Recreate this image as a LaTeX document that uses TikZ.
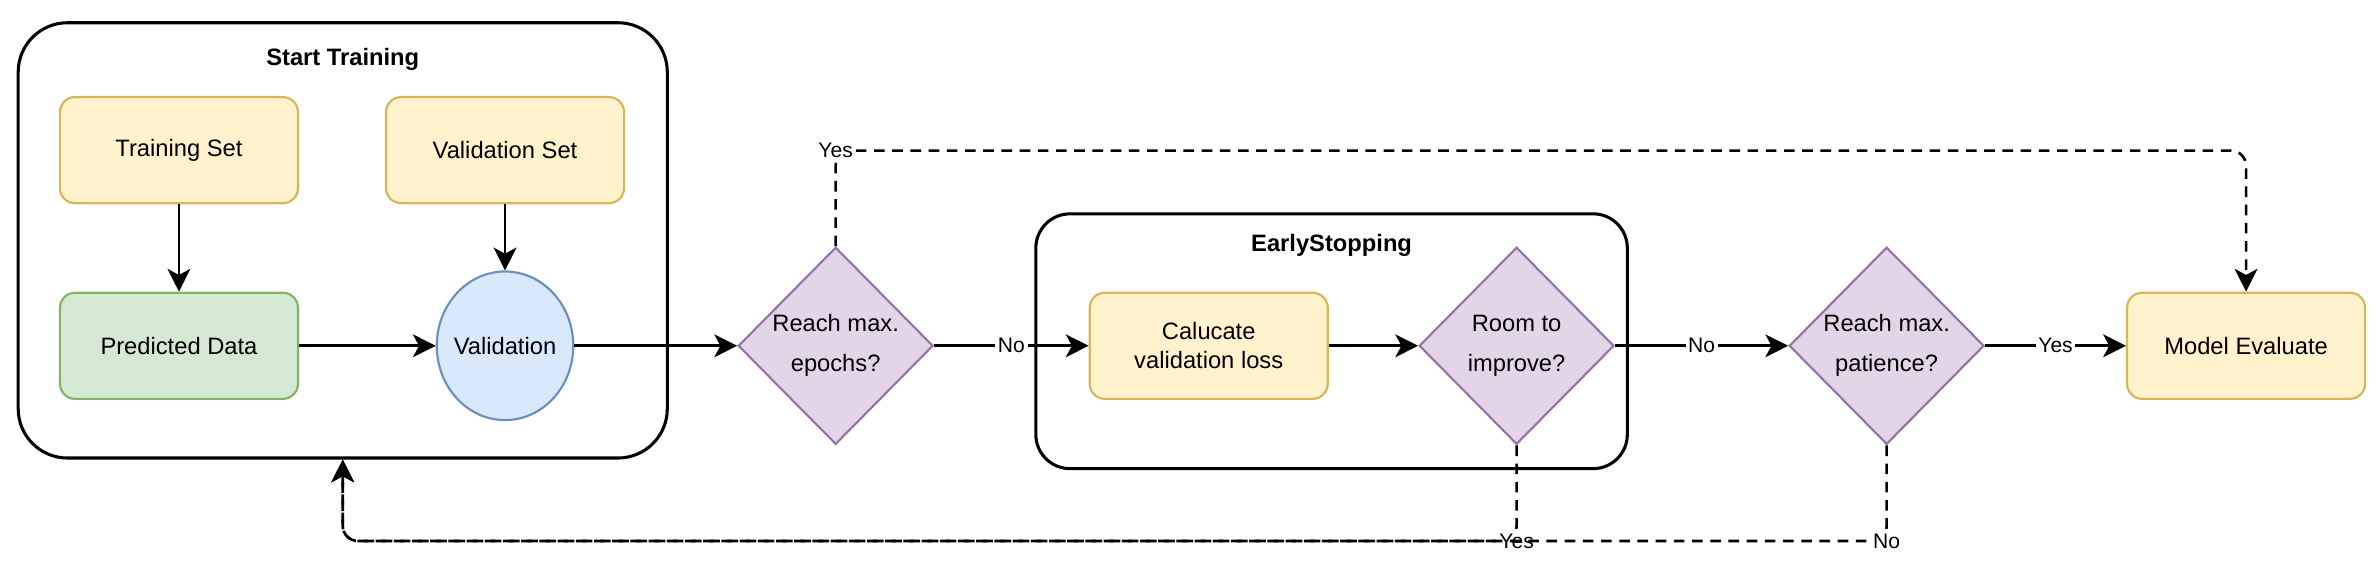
\documentclass[tikz,border=0pt]{standalone}
\usepackage{fontspec}
\setmainfont{Liberation Sans}
\usetikzlibrary{positioning,shapes.geometric,arrows.meta}
\definecolor{ylwfill}{HTML}{FFF2CC}
\definecolor{ylwline}{HTML}{D6B656}
\definecolor{grnfill}{HTML}{D5E8D4}
\definecolor{grnline}{HTML}{82B366}
\definecolor{blufill}{HTML}{DAE8FC}
\definecolor{bluline}{HTML}{6C8EBF}
\definecolor{prpfill}{HTML}{E1D5E7}
\definecolor{prpline}{HTML}{9673A6}

\begin{document}
\begin{tikzpicture}[node distance={4.3cm}, thick, font=\fontsize{8.9}{11}\selectfont,
    main/.style = {draw=ylwline, fill=ylwfill, line width=0.8pt, rounded corners=0.2cm, minimum width=3.14cm, minimum height=1.4cm, align=center},
    dia/.style = {diamond, draw=prpline, fill=prpfill, line width=0.8pt, minimum width=2.57cm, minimum height=2.6cm, inner sep=0pt, align=center},
    group/.style = {draw, line width=1.15pt, rounded corners=0.65cm},
    title/.style = {font=\fontsize{8.9}{11}\selectfont\bfseries},
    lbl/.style = {fill=white, inner sep=1pt, font=\fontsize{7.9}{9}\selectfont},
    back/.style = {line width=1pt, dash pattern=on 0.14cm off 0.1cm, rounded corners=0.2cm, -{Stealth[length=0.3cm, width=0.3cm, inset=0.08cm]}}]
    \tikzset{every edge/.style={draw, line width=1pt, -{Stealth[length=0.3cm, width=0.3cm, inset=0.08cm]}}}
    \useasboundingbox (0,0) rectangle (31.36,-7.68);
    \node[group, minimum width=8.56cm, minimum height=5.74cm] (g1) at (4.52,-3.17) {};
    \node[title] (t1) at ([yshift=-0.5cm]g1.north) {Start Training};
    \node[group, rounded corners=0.45cm, minimum width=7.8cm, minimum height=3.36cm] (g2) at (17.56,-4.5) {};
    \node[title] (t2) at ([yshift=-0.44cm]g2.north) {EarlyStopping};
    \node[main] (1) at (2.36,-1.98) {Training Set};
    \node[main] (2)[right of=1] {Validation Set};
    \node[main, draw=grnline, fill=grnfill] (3)[node distance=2.58cm, below of=1] {Predicted Data};
    \node[ellipse, draw=bluline, fill=blufill, line width=0.8pt, minimum width=1.8cm, minimum height=1.96cm, inner xsep=-5pt, inner ysep=0pt] (4)[right of=3] {Validation};
    \node[dia] (5)[node distance=4.36cm, right of=4] {Reach max.\\[4pt]epochs?};
    \node[main] (6)[node distance=4.92cm, right of=5] {Calucate\\validation loss};
    \node[dia] (7)[node distance=4.06cm, right of=6] {Room to\\[4pt]improve?};
    \node[dia] (8)[node distance=4.88cm, right of=7] {Reach max.\\[4pt]patience?};
    \node[main] (9)[node distance=4.74cm, right of=8] {Model Evaluate};
    \path
    (1) edge (3)
    (2) edge (4)
    (3) edge (4)
    (4) edge (5)
    (5) edge node[lbl] {No} (6)
    (6) edge (7)
    (7) edge node[lbl] {No} (8)
    (8) edge node[lbl] {Yes} (9)
    ;
    \draw[back] (5.north) -- ++(0,1.26) node[lbl] {Yes} -| (9.north);
    \draw[back] (7.south) -- ++(0,-1.26) node[lbl] {Yes} -| (g1.south);
    \draw[back] (8.south) -- ++(0,-1.26) node[lbl] {No} -| (g1.south);
  \end{tikzpicture}
\end{document}
